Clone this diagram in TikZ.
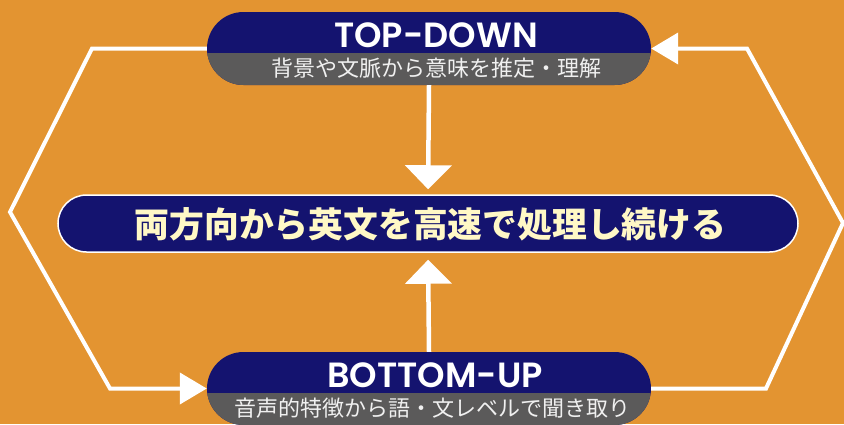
\documentclass[tikz,border=0pt]{standalone}
\usepackage{fontspec}
\newfontfamily\jp{Noto Sans CJK JP}
\newfontfamily\pop{Poppins SemiBold}
\usetikzlibrary{shapes.misc,arrows.meta}
\definecolor{bg}{HTML}{E39431}
\definecolor{navy}{HTML}{14136F}
\definecolor{slate}{HTML}{5B5A5A}
\definecolor{cream}{HTML}{FFF8C6}
\begin{document}
\begin{tikzpicture}[x=1pt,y=-1pt,
  pill/.style={rounded rectangle, minimum width=444pt, minimum height=73pt, inner sep=0pt, fill=navy,
    path picture={\fill[slate] ([yshift=-4.5pt]path picture bounding box.west) rectangle (path picture bounding box.south east);}},
  midpill/.style={rounded rectangle, minimum width=740pt, minimum height=57pt, inner sep=0pt, fill=navy, draw=white, line width=1.5pt},
  ttl/.style={anchor=base, text=white, inner sep=0pt, font=\pop\fontsize{35}{35}\selectfont},
  sub/.style={text=white!94!black, inner sep=0pt, font=\jp\fontsize{22}{22}\selectfont},
  main/.style={text=cream, inner sep=0pt, font=\jp\bfseries\fontsize{34.8}{35}\selectfont},
  loopline/.style={draw=white, line width=4pt, -{Triangle[length=27pt,width=31pt]}},
  varrow/.style={draw=white, line width=4.5pt, -{Triangle[length=24pt,width=46pt]}}]
\useasboundingbox[fill=bg] (0,0) rectangle (844,424);
% corner coordinates of the loop
\coordinate (lt) at (92,48.5);
\coordinate (lp) at (10,212);
\coordinate (lb) at (110,388.5);
\coordinate (rb) at (766,388.5);
\coordinate (rp) at (843,223);
\coordinate (rt) at (747,48.5);
% boxes
\node[pill] (top) at (429,48.5) {};
\node[pill] (bot) at (429,388.5) {};
\node[midpill] (mid) at (428,223.5) {};
% texts
\node[ttl] (toptitle) at (436,47) {TOP-DOWN};
\node[sub] (topsub) at (436,68.5) {背景や文脈から意味を推定・理解};
\node[ttl] (bottitle) at (435,387) {BOTTOM-UP};
\node[sub] (botsub) at (432,408.5) {音声的特徴から語・文レベルで聞き取り};
\node[main] (maintext) at (430.5,224) {両方向から英文を高速で処理し続ける};
% connectors
\draw[loopline] (top.west) -- (lt) -- (lp) -- (lb) -- (bot.west);
\draw[loopline] (bot.east) -- (rb) -- (rp) -- (rt) -- (top.east);
\draw[varrow, shorten >=5pt] (top.south) -- (mid.north);
\draw[varrow, shorten >=7pt] (bot.north) -- (mid.south);
\end{tikzpicture}
\end{document}
